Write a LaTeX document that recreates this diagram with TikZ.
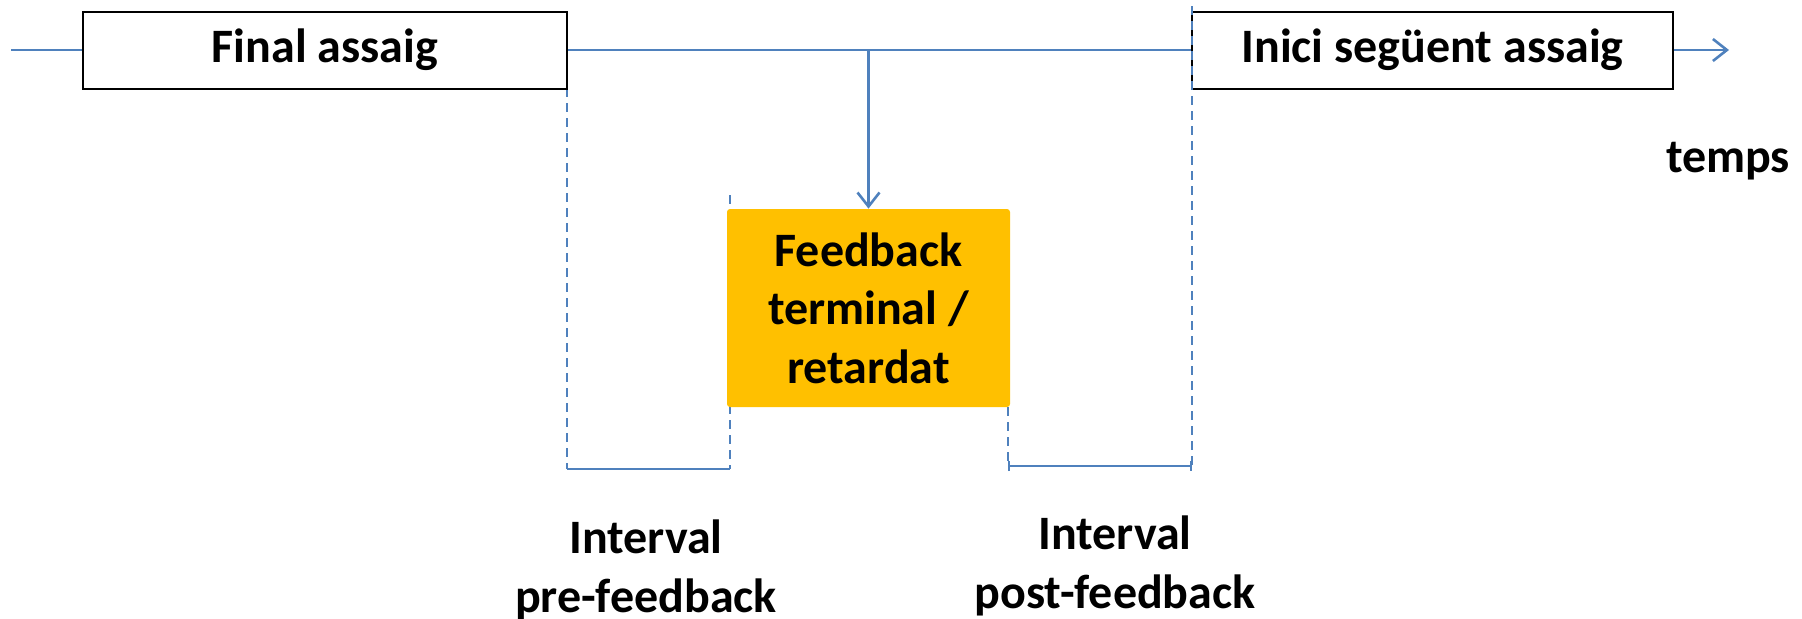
\documentclass[tikz,border=0pt]{standalone}
\usepackage{fontspec}
\setmainfont{Carlito}
\usetikzlibrary{arrows.meta}
\definecolor{lineblue}{HTML}{4F81BD}
\definecolor{fbgold}{HTML}{FFC000}
\tikzset{
  txt/.style={font=\fontsize{24pt}{29.25pt}\selectfont\bfseries, align=center, inner sep=0pt},
  trialbox/.style={draw=black, line width=1pt, fill=white, txt, minimum height=38.5pt},
  fbbox/.style={fill=fbgold, rounded corners=1.5pt, txt, minimum width=141.5pt, minimum height=99pt},
  tline/.style={draw=lineblue, line width=1.4pt},
  guide/.style={draw=lineblue, line width=0.9pt, dash pattern=on 4.5pt off 3pt},
  openarrow/.style={-{Straight Barb[length=7pt, width=11pt, line width=1.3pt]}}
}
\begin{document}
\begin{tikzpicture}[x=0.5pt, y=-0.5pt]
\useasboundingbox (0,0) rectangle (1802,618);

% dashed guides marking the intervals
\coordinate (g1top) at (567,88);
\coordinate (g1bot) at (567,469);
\coordinate (g2top) at (730,195);
\coordinate (g2bot) at (730,469);
\coordinate (g3top) at (1008,407);
\coordinate (g3bot) at (1008,466);
\coordinate (g4top) at (1192,6);
\coordinate (g4bot) at (1192,466);
\draw[guide] (g1top) -- (g1bot);
\draw[guide] (g2top) -- (g2bot);
\draw[guide] (g3top) -- (g3bot);

% interval spans
\draw[tline, line width=1.1pt] (g1bot) -- (g2bot);
\draw[tline, line width=1.1pt, {Bar[width=5pt,line width=0.8pt]}-{Bar[width=5pt,line width=0.8pt]}] (g3bot) -- (g4bot);

% trials on the time line
\node[trialbox, minimum width=242pt] (final) at (325,50) {Final assaig};
\node[trialbox, minimum width=240.5pt] (inici) at (1432.5,50) {Inici següent assaig};
\draw[guide] (g4top) -- (g4bot);

% feedback
\node[fbbox] (fb) at (868.5,308) {Feedback\\terminal /\\retardat};

% time line
\coordinate (start) at (11,50);
\coordinate (end) at (1729,50);
\coordinate (branch) at (fb.north |- final.east);
\draw[tline] (start) -- (final.west);
\draw[tline] (final.east) -- (inici.west);
\draw[tline, openarrow] (branch) -- (fb.north);
\draw[tline, openarrow] (inici.east) -- (end);

% labels
\node[txt] (temps) at (1728,161) {temps};
\node[txt] (pre) at (646,570) {Interval\\pre-feedback};
\node[txt] (post) at (1115,566) {Interval\\post-feedback};
\end{tikzpicture}
\end{document}
